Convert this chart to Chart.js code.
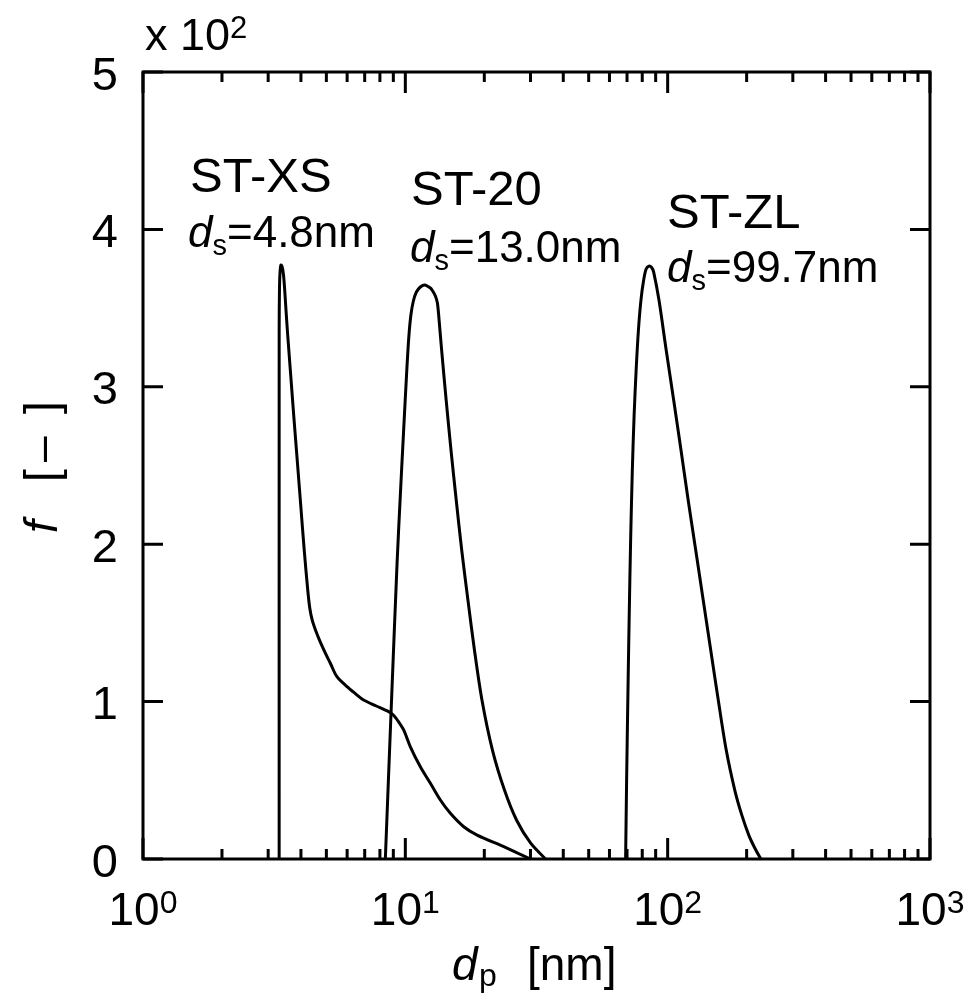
<!DOCTYPE html>
<html lang="en">
<head>
<meta charset="UTF-8">
<title>Particle size distribution</title>
<script src="https://cdn.jsdelivr.net/npm/chart.js"></script>
<style>
    html, body { margin: 0; padding: 0; background: #ffffff; }
    #wrap { width: 970px; height: 1000px; }
</style>
</head>
<body>
<div id="wrap"><canvas id="chart" width="970" height="1000"></canvas></div>
<script>
// ST-XS, d_s = 4.8 nm
const xsDp = [3.304, 3.304, 3.313, 3.327, 3.355, 3.394, 3.433, 3.469, 3.508, 3.561, 3.656, 3.753, 3.871,
              3.992, 4.117, 4.246, 4.322, 4.416, 4.575, 4.738, 4.951, 5.173, 5.487, 5.992, 6.447, 6.933,
              7.750, 8.637, 9.000, 9.322, 9.852, 10.45, 11.41, 12.46, 13.60, 14.85, 16.69, 18.78, 23.73, 30.0];
const xsF  = [0, 3.361, 3.615, 3.717, 3.774, 3.761, 3.710, 3.615, 3.488, 3.329, 3.075, 2.821, 2.535,
              2.249, 1.963, 1.709, 1.595, 1.518, 1.442, 1.379, 1.309, 1.245, 1.158, 1.095, 1.051, 1.010,
              0.972, 0.936, 0.915, 0.883, 0.820, 0.713, 0.586, 0.481, 0.375, 0.290, 0.205, 0.152, 0.078, 0];

// ST-20, d_s = 13.0 nm
const s20Dp = [8.39, 8.86, 9.30, 9.55, 9.84, 10.13, 10.31, 10.50, 10.73, 11.02, 11.41, 11.85, 12.46, 12.68,
               13.02, 13.25, 13.45, 13.75, 14.31, 14.93, 15.63, 16.40, 17.32, 18.34, 19.59, 21.48, 23.87,
               26.53, 30.0, 34.2];
const s20F  = [0, 1.010, 1.879, 2.281, 2.706, 3.107, 3.316, 3.456, 3.545, 3.602, 3.634, 3.647, 3.628, 3.612,
               3.577, 3.532, 3.424, 3.234, 2.916, 2.598, 2.281, 1.963, 1.646, 1.328, 1.010, 0.692, 0.438,
               0.248, 0.102, 0];

// ST-ZL, d_s = 99.7 nm
const zlDp = [69.14, 69.75, 70.49, 71.30, 72.25, 73.33, 74.50, 75.83, 77.37, 79.10, 81.0, 82.78, 84.85,
              86.88, 88.44, 92.65, 98.70, 105.4, 112.4, 119.7, 127.9, 136.6, 145.9, 155.9, 167.2, 180.2,
              191.6, 203.8, 214.8, 226.5];
const zlF  = [0, 0.502, 1.010, 1.518, 2.027, 2.471, 2.821, 3.107, 3.361, 3.551, 3.678, 3.748, 3.767,
              3.758, 3.729, 3.551, 3.234, 2.916, 2.598, 2.281, 1.963, 1.646, 1.328, 1.010, 0.692, 0.438,
              0.280, 0.152, 0.070, 0];

const xDecades = [1, 10, 100, 1000];
const xTickExp = ['0', '1', '2', '3'];
const yTicks = [0, 1, 2, 3, 4, 5];

// sample name, d_s value text
const sampleNames = ['ST-XS', 'ST-20', 'ST-ZL'];
const sampleDs = ['=4.8nm', '=13.0nm', '=99.7nm'];

const FONT = "'Liberation Sans', Arial, Helvetica, sans-serif";

function toPoints(xs, ys) {
    return xs.map((v, i) => ({ x: v, y: ys[i] }));
}

function font(size, italic) {
    return (italic ? 'italic ' : '') + size + 'px ' + FONT;
}

// base text with superscript, centred on cx
function drawPower(ctx, base, exp, cx, baseY, size) {
    const supSize = Math.round(size * 0.69);
    ctx.font = font(size);
    const wb = ctx.measureText(base).width;
    ctx.font = font(supSize);
    const we = ctx.measureText(exp).width;
    const x0 = cx - (wb + we) / 2;
    ctx.font = font(size);
    ctx.fillText(base, x0, baseY);
    ctx.font = font(supSize);
    ctx.fillText(exp, x0 + wb, baseY - size * 0.27);
}

// "d_s=..." label
function drawDs(ctx, value, x, baseY, size) {
    ctx.font = font(size, true);
    ctx.fillText('d', x, baseY);
    let cx = x + ctx.measureText('d').width;
    const sub = Math.round(size * 0.66);
    ctx.font = font(sub);
    ctx.fillText('s', cx, baseY + 8);
    cx += ctx.measureText('s').width;
    ctx.font = font(size);
    ctx.fillText(value, cx, baseY);
}

const frameAndText = {
    id: 'frameAndText',
    afterDatasetsDraw(chart) {
        const { ctx, chartArea: a, scales: { x, y } } = chart;
        ctx.save();
        ctx.strokeStyle = '#000';
        ctx.fillStyle = '#000';
        ctx.lineWidth = 3;
        ctx.lineCap = 'butt';
        ctx.strokeRect(a.left, a.top, a.right - a.left, a.bottom - a.top);

        // inward ticks
        ctx.beginPath();
        xDecades.forEach(d => {
            for (let m = 1; m <= 9; m++) {
                const v = d * m;
                if (v > x.max) break;
                const px = x.getPixelForValue(v);
                const len = m === 1 ? 21 : 10;
                ctx.moveTo(px, a.bottom); ctx.lineTo(px, a.bottom - len);
                ctx.moveTo(px, a.top); ctx.lineTo(px, a.top + len);
            }
        });
        yTicks.forEach(v => {
            const py = y.getPixelForValue(v);
            ctx.moveTo(a.left, py); ctx.lineTo(a.left + 20, py);
            ctx.moveTo(a.right, py); ctx.lineTo(a.right - 20, py);
        });
        ctx.stroke();

        // tick labels
        ctx.textBaseline = 'alphabetic';
        ctx.textAlign = 'left';
        xDecades.forEach((d, i) => {
            drawPower(ctx, '10', xTickExp[i], x.getPixelForValue(d), 925, 46);
        });
        ctx.textAlign = 'right';
        ctx.font = font(47);
        yTicks.forEach(v => {
            ctx.fillText(String(v), 118, y.getPixelForValue(v) + 17.5);
        });
        ctx.textAlign = 'left';

        // multiplier
        ctx.font = font(45);
        ctx.fillText('x', 145, 50);
        const wx = ctx.measureText('x ').width;
        const w10 = ctx.measureText('10').width;
        ctx.fillText('10', 145 + wx, 50);
        ctx.font = font(31);
        ctx.fillText('2', 145 + wx + w10, 50 - 12);

        // x title
        ctx.font = font(46, true);
        ctx.fillText('d', 452, 980);
        ctx.font = font(32);
        ctx.fillText('p', 479, 986);
        ctx.font = font(46);
        ctx.fillText('[nm]', 527, 980);

        // y title (rotated)
        ctx.save();
        ctx.translate(57, 0);
        ctx.rotate(-Math.PI / 2);
        ctx.font = font(46, true);
        ctx.fillText('f', -533, 0);
        ctx.font = font(46);
        ctx.fillText('[', -482, 0);
        ctx.fillText('\u2013', -462, 0);
        ctx.fillText(']', -414, 0);
        ctx.restore();

        // sample labels
        const nameX = [190, 411, 667];
        const nameY = [192, 205, 228];
        const dsX = [188, 410, 667];
        const dsY = [247, 262, 282];
        sampleNames.forEach((n, i) => {
            ctx.font = font(49);
            ctx.fillText(n, nameX[i], nameY[i]);
            drawDs(ctx, sampleDs[i], dsX[i], dsY[i], 44);
        });
        ctx.restore();
    }
};

const lineStyle = {
    showLine: true,
    borderColor: '#000',
    borderWidth: 3,
    pointRadius: 0,
    tension: 0.3,
    fill: false
};

new Chart(document.getElementById('chart'), {
    type: 'scatter',
    data: {
        datasets: [
            Object.assign({ label: sampleNames[0], data: toPoints(xsDp, xsF) }, lineStyle),
            Object.assign({ label: sampleNames[1], data: toPoints(s20Dp, s20F) }, lineStyle),
            Object.assign({ label: sampleNames[2], data: toPoints(zlDp, zlF) }, lineStyle)
        ]
    },
    options: {
        responsive: false,
        animation: false,
        layout: { padding: { left: 143, top: 72, right: 40, bottom: 141 } },
        plugins: { legend: { display: false }, tooltip: { enabled: false } },
        scales: {
            x: { type: 'logarithmic', min: 1, max: 1000, display: false },
            y: { type: 'linear', min: 0, max: 5, display: false }
        }
    },
    plugins: [frameAndText]
});
</script>
</body>
</html>
